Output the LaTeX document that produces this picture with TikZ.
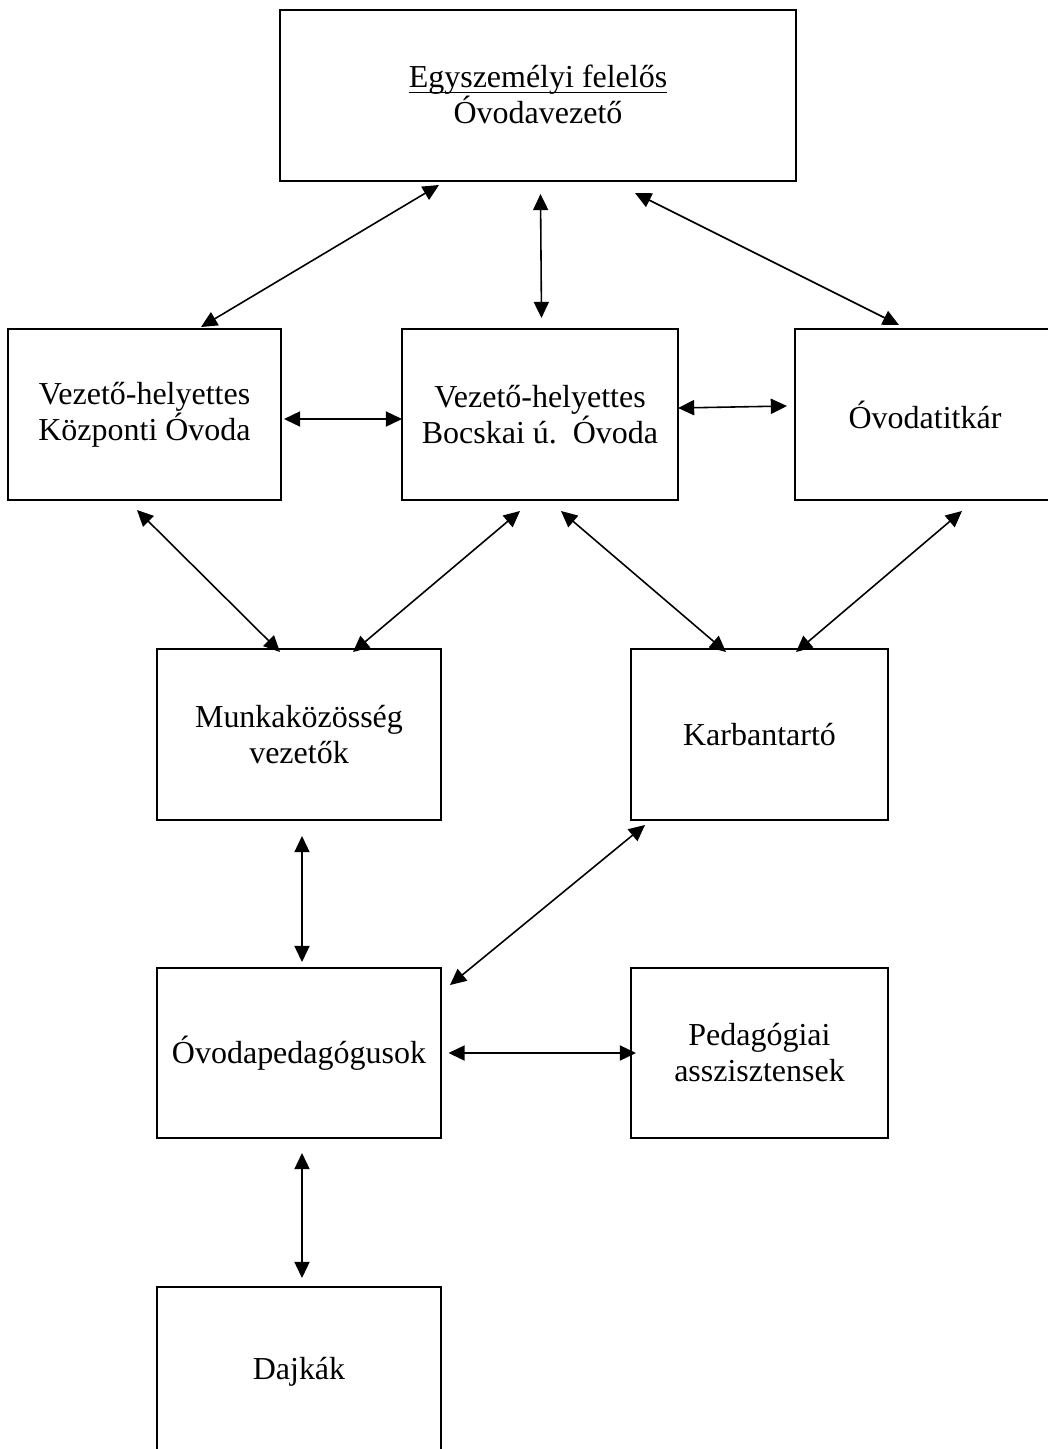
\documentclass[tikz,border=0pt]{standalone}
\usepackage{fontspec}
\setmainfont{Liberation Serif}
\usetikzlibrary{arrows.meta}
\tikzset{
  orgbox/.style={draw, line width=0.5pt, inner sep=0pt, outer sep=0pt,
    minimum height=1.71cm, align=center, font=\fontsize{9.1pt}{10.25pt}\selectfont},
  link/.style={>={Triangle[length=4.6pt,width=4.3pt]}, <->, line width=0.45pt}
}
\begin{document}
\begin{tikzpicture}
    \useasboundingbox[fill=white] (0,0) rectangle (10.48,-14.49);
    \node[orgbox, minimum width=5.16cm] (head) at (5.38,-0.955)
        {\underline{\smash{Egyszemélyi felelős}}\vphantom{Egy}\\Óvodavezető};
    \node[orgbox, minimum width=2.73cm] (kozp) at (1.445,-4.145) {Vezető-helyettes\\Központi Óvoda};
    \node[orgbox, minimum width=2.76cm] (bocs) at (5.40,-4.145) {Vezető-helyettes\\Bocskai ú.\ \ Óvoda};
    \node[orgbox, minimum width=2.60cm] (titk) at (9.25,-4.145) {Óvodatitkár};
    \node[orgbox, minimum width=2.84cm] (munka) at (2.99,-7.345) {Munkaközösség\\vezetők};
    \node[orgbox, minimum width=2.57cm] (karb) at (7.595,-7.345) {Karbantartó};
    \node[orgbox, minimum width=2.84cm, minimum height=1.70cm] (ovped) at (2.99,-10.53) {Óvodapedagógusok};
    \node[orgbox, minimum width=2.57cm, minimum height=1.70cm] (pedas) at (7.595,-10.53) {Pedagógiai\\asszisztensek};
    \node[orgbox, minimum width=2.84cm, minimum height=1.70cm] (dajka) at (2.99,-13.72) {Dajkák};

    \draw[link] ([xshift=-0.99cm,yshift=-0.04cm]head.south) -- ([xshift=0.565cm,yshift=0.02cm]kozp.north);
    \draw[link] ([xshift=0.025cm,yshift=-0.13cm]head.south) -- ([xshift=0.015cm,yshift=0.11cm]bocs.north);
    \draw[link] ([xshift=0.97cm,yshift=-0.12cm]head.south) -- ([xshift=-0.26cm,yshift=0.04cm]titk.north);
    \draw[link] ([xshift=0.03cm,yshift=-0.045cm]kozp.east) -- ([yshift=-0.045cm]bocs.west);
    \draw[link] ([yshift=0.065cm]bocs.east) -- ([xshift=-0.08cm,yshift=0.085cm]titk.west);
    \draw[link] ([xshift=-0.075cm,yshift=-0.10cm]kozp.south) -- ([xshift=-0.19cm,yshift=-0.03cm]munka.north);
    \draw[link] ([xshift=-0.20cm,yshift=-0.11cm]bocs.south) -- ([xshift=0.54cm,yshift=-0.03cm]munka.north);
    \draw[link] ([xshift=0.21cm,yshift=-0.11cm]bocs.south) -- ([xshift=-0.335cm,yshift=-0.03cm]karb.north);
    \draw[link] ([xshift=0.37cm,yshift=-0.11cm]titk.south) -- ([xshift=0.365cm,yshift=-0.03cm]karb.north);
    \draw[link] ([xshift=0.03cm,yshift=-0.16cm]munka.south) -- ([xshift=0.03cm,yshift=0.06cm]ovped.north);
    \draw[link] ([xshift=-1.145cm,yshift=-0.05cm]karb.south) -- ([xshift=0.09cm,yshift=-0.17cm]ovped.north east);
    \draw[link] ([xshift=0.075cm]ovped.east) -- ([xshift=0.05cm]pedas.west);
    \draw[link] ([xshift=0.03cm,yshift=-0.15cm]ovped.south) -- ([xshift=0.03cm,yshift=0.09cm]dajka.north);
\end{tikzpicture}
\end{document}
